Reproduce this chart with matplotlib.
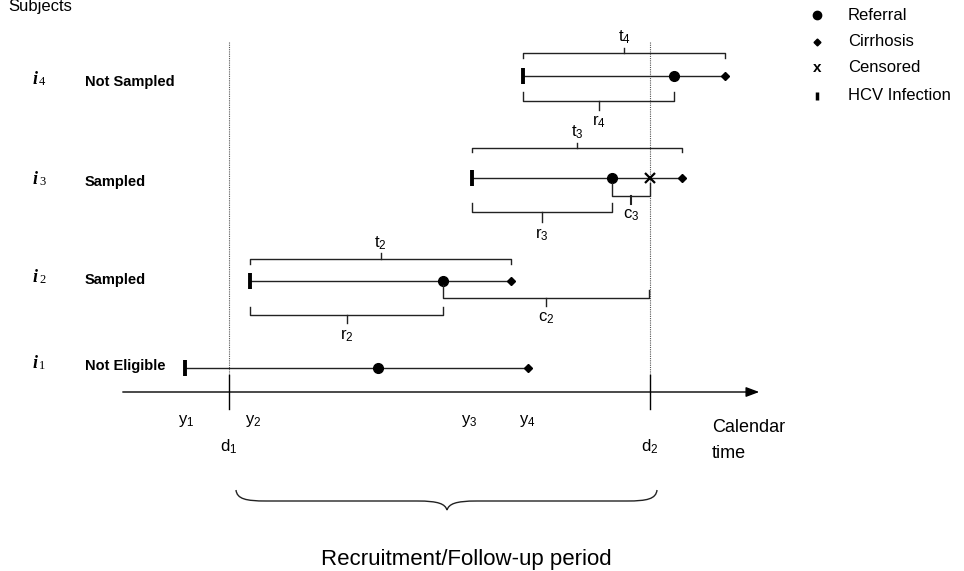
import matplotlib.pyplot as plt
from matplotlib.path import Path
from matplotlib.patches import PathPatch

plt.rcParams['font.family'] = ['Liberation Sans', 'DejaVu Sans']
plt.rcParams['mathtext.fontset'] = 'custom'
plt.rcParams['mathtext.rm'] = 'Liberation Sans'
plt.rcParams['mathtext.it'] = 'Liberation Sans:italic'

# calendar times (drawing units) for each subject i1..i4
subjects = ['1', '2', '3', '4']
status = ['Not Eligible', 'Sampled', 'Sampled', 'Not Sampled']
hcv_time = [185, 250, 472, 523]
referral_time = [378, 443, 612, 674]
cirrhosis_time = [528, 511, 682, 725]
censor_time = [None, 649, 650, None]
d_times = [229, 650]
d_labels = ['d_1', 'd_2']
y_labels = ['y_1', 'y_2', 'y_3', 'y_4']
y_label_pos = [186, 253, 469, 527]

row_y = [368, 281, 178, 76]
status_y = [366, 280, 182, 82]
ink = '#222222'


def bracket(ax, x0, x1, y, end_dy, tick_x, tick_dy, label, label_dy):
    ax.plot([x0, x0, x1, x1], [y + end_dy, y, y, y + end_dy], color=ink, lw=1)
    ax.plot([tick_x, tick_x], [y, y + tick_dy], color=ink, lw=1)
    ax.text(tick_x, y + tick_dy + label_dy, '$\\mathregular{%s}$' % label,
            ha='center', va='center', fontsize=12)


fig = plt.figure(figsize=(9.64, 5.71), dpi=100)
ax = fig.add_axes([0, 0, 1, 1])
ax.set_xlim(0, 964)
ax.set_ylim(571, 0)
ax.axis('off')

ax.text(8, 6, 'Subjects', fontsize=12, ha='left', va='center')

# recruitment window
for d, lab in zip(d_times, d_labels):
    ax.plot([d, d], [42, 376], color='#555555', lw=0.8, ls=(0, (1, 1)))
    ax.plot([d, d], [375, 409], color='black', lw=1)
    ax.text(d, 447, '$\\mathregular{%s}$' % lab, ha='center', va='center', fontsize=12)

# calendar time axis
ax.annotate('', xy=(762, 392), xytext=(120, 392),
            arrowprops=dict(arrowstyle='-|>,head_length=0.8,head_width=0.3',
                            color='black', lw=1))
for x, lab in zip(y_label_pos, y_labels):
    ax.text(x, 421, '$\\mathregular{%s}$' % lab, ha='center', va='center', fontsize=12)
ax.text(712, 428, 'Calendar', fontsize=13, ha='left', va='center')
ax.text(712, 453, 'time', fontsize=13, ha='left', va='center')

# subject timelines
for k in range(4):
    y = row_y[k]
    ax.plot([hcv_time[k], cirrhosis_time[k]], [y, y], color=ink, lw=1)
    ax.plot(hcv_time[k], y, marker='|', ms=12, mew=2.8, color='black')
    ax.plot(referral_time[k], y, marker='o', ms=7, color='black')
    ax.plot(cirrhosis_time[k], y, marker='D', ms=4, color='black')
    sy = status_y[k]
    ax.text(33, sy - 3, 'i', family='Liberation Serif', style='italic',
            weight='bold', fontsize=13, ha='left', va='center')
    ax.text(39, sy, subjects[k], family='Liberation Serif', fontsize=9,
            ha='left', va='center')
    ax.text(85, sy, status[k], weight='bold', fontsize=10.5,
            ha='left', va='center')

# censoring for subject 3
ax.plot(censor_time[2], row_y[2], marker='x', ms=7, mew=1.6, color='black')

# t brackets (above)
bracket(ax, hcv_time[3], cirrhosis_time[3], 53, 5, (hcv_time[3] + cirrhosis_time[3]) / 2, -5, 't_4', -11)
bracket(ax, hcv_time[2], cirrhosis_time[2], 148, 4, (hcv_time[2] + cirrhosis_time[2]) / 2, -5, 't_3', -11)
bracket(ax, hcv_time[1], cirrhosis_time[1], 259, 5, (hcv_time[1] + cirrhosis_time[1]) / 2, -6, 't_2', -10)

# r brackets (below)
bracket(ax, hcv_time[3], referral_time[3], 101, -9, (hcv_time[3] + referral_time[3]) / 2, 9, 'r_4', 12)
bracket(ax, hcv_time[2], referral_time[2], 212, -9, (hcv_time[2] + referral_time[2]) / 2, 10, 'r_3', 13)
bracket(ax, hcv_time[1], referral_time[1], 315, -8, (hcv_time[1] + referral_time[1]) / 2, 8, 'r_2', 13)

# c brackets
ax.plot([referral_time[2], referral_time[2], censor_time[2], censor_time[2]],
        [183, 196, 196, 183], color=ink, lw=1)
cx = (referral_time[2] + censor_time[2]) / 2
ax.plot([cx, cx], [196, 204], color=ink, lw=1.5)
ax.text(cx, 215, '$\\mathregular{c_3}$', ha='center', va='center', fontsize=12)

ax.plot([referral_time[1], referral_time[1], censor_time[1], censor_time[1]],
        [285, 298, 298, 290], color=ink, lw=1)
cx = (referral_time[1] + censor_time[1]) / 2
ax.plot([cx, cx], [298, 306], color=ink, lw=1)
ax.text(cx, 318, '$\\mathregular{c_2}$', ha='center', va='center', fontsize=12)

# recruitment brace
bx0, bx1 = 236, 657
bm = 447
verts = [(bx0, 490), (bx0 + 1, 499), (bx0 + 10, 501), (bx0 + 30, 501),
         (bm - 30, 501),
         (bm - 8, 501), (bm - 2, 504), (bm, 510),
         (bm + 2, 504), (bm + 8, 501), (bm + 30, 501),
         (bx1 - 30, 501),
         (bx1 - 10, 501), (bx1 - 1, 499), (bx1, 490)]
codes = [Path.MOVETO, Path.CURVE4, Path.CURVE4, Path.CURVE4,
         Path.LINETO,
         Path.CURVE4, Path.CURVE4, Path.CURVE4,
         Path.CURVE4, Path.CURVE4, Path.CURVE4,
         Path.LINETO,
         Path.CURVE4, Path.CURVE4, Path.CURVE4]
ax.add_patch(PathPatch(Path(verts, codes), fill=False, edgecolor=ink, lw=1))
ax.text(466, 560, 'Recruitment/Follow-up period', fontsize=16,
        ha='center', va='center')

# legend
leg_y = [15, 42, 68, 95]
ax.plot(817, leg_y[0], marker='o', ms=6, color='black')
ax.plot(817, leg_y[1], marker='D', ms=3.5, color='black')
ax.text(817, leg_y[2], 'x', weight='bold', fontsize=11, ha='center', va='center')
ax.plot(817, leg_y[3] + 1, marker='|', ms=6, mew=2.5, color='black')
for yy, lab in zip(leg_y, ['Referral', 'Cirrhosis', 'Censored', 'HCV Infection']):
    ax.text(848, yy, lab, fontsize=12, ha='left', va='center')

fig.savefig('out.png', dpi=100)
